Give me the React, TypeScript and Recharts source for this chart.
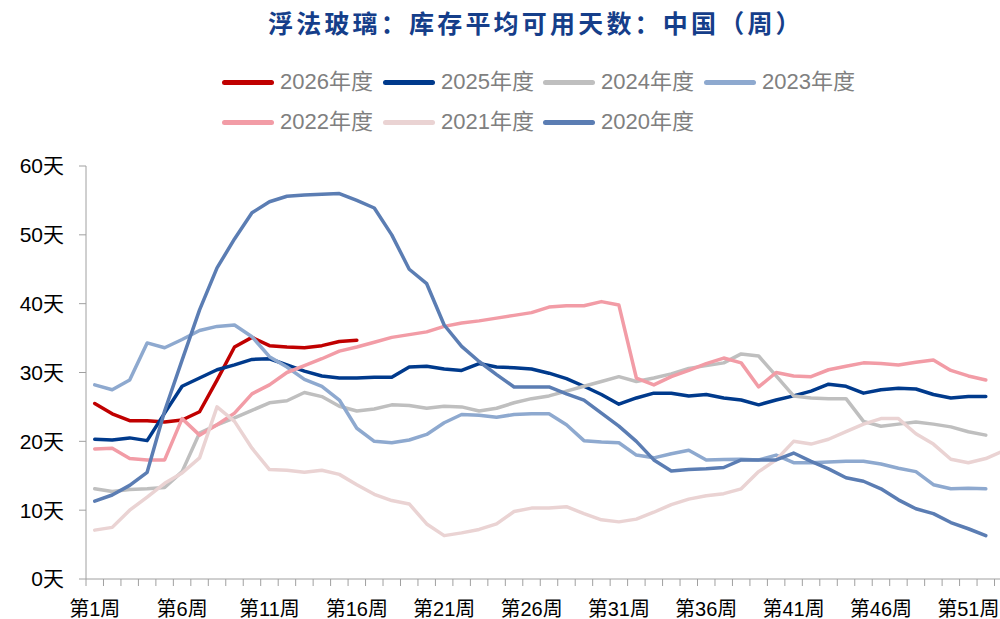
import React from 'react';
import { LineChart, Line, XAxis, YAxis } from 'recharts';

// ---- Data ----
const weekLabels: string[] = Array.from({ length: 53 }, (_, i) => `第${i + 1}周`);

const y2026 = [25.5, 24.0, 23.0, 23.0, 22.8, 23.1, 24.3, 28.9, 33.7, 35.1, 33.9, 33.7, 33.6, 33.9, 34.5, 34.7];

const y2025 = [20.3, 20.2, 20.5, 20.1, 24.1, 28.0, 29.2, 30.4, 31.1, 31.9, 32.0, 31.1, 30.2, 29.5, 29.2, 29.2, 29.3, 29.3, 30.8, 30.9,
  30.5, 30.3, 31.3, 30.8, 30.7, 30.5, 29.9, 29.1, 28.0, 26.8, 25.4, 26.3, 27.0, 27.0, 26.6, 26.8, 26.3, 26.0, 25.3, 26.0,
  26.6, 27.3, 28.3, 28.0, 27.0, 27.5, 27.7, 27.6, 26.8, 26.3, 26.5, 26.5];

const y2024 = [13.1, 12.7, 13.0, 13.1, 13.3, 15.6, 21.2, 22.4, 23.4, 24.5, 25.6, 25.9, 27.1, 26.5, 25.1, 24.4, 24.7, 25.3, 25.2, 24.8,
  25.1, 25.0, 24.4, 24.8, 25.6, 26.2, 26.6, 27.3, 28.0, 28.7, 29.4, 28.7, 29.2, 29.8, 30.6, 31.0, 31.4, 32.7, 32.4, 29.5,
  26.6, 26.3, 26.2, 26.2, 22.9, 22.2, 22.5, 22.8, 22.5, 22.1, 21.4, 20.9];

const y2023 = [28.2, 27.5, 28.9, 34.3, 33.6, 34.8, 36.1, 36.7, 36.9, 35.2, 32.3, 30.8, 29.0, 28.0, 26.0, 21.9, 20.0, 19.8, 20.2, 21.0,
  22.7, 23.9, 23.8, 23.5, 23.9, 24.0, 24.0, 22.4, 20.1, 19.9, 19.8, 18.0, 17.6, 18.2, 18.7, 17.3, 17.35, 17.4, 17.3, 18.0,
  16.9, 16.9, 17.0, 17.1, 17.1, 16.7, 16.1, 15.6, 13.7, 13.1, 13.2, 13.1];

const y2022 = [18.9, 19.0, 17.5, 17.3, 17.3, 23.3, 20.9, 22.4, 24.1, 26.9, 28.2, 30.0, 31.0, 32.0, 33.1, 33.7, 34.4, 35.1, 35.5, 35.9,
  36.7, 37.2, 37.5, 37.9, 38.3, 38.7, 39.5, 39.7, 39.7, 40.3, 39.8, 29.2, 28.2, 29.4, 30.3, 31.3, 32.1, 31.4, 27.9, 30.0,
  29.5, 29.4, 30.4, 30.9, 31.4, 31.3, 31.1, 31.5, 31.8, 30.3, 29.5, 28.9];

const y2021 = [7.1, 7.5, 10.0, 11.9, 13.9, 15.4, 17.6, 25.0, 22.9, 19.0, 15.9, 15.8, 15.5, 15.8, 15.2, 13.7, 12.3, 11.4, 10.9, 8.0,
  6.3, 6.7, 7.2, 8.0, 9.8, 10.3, 10.3, 10.5, 9.5, 8.6, 8.3, 8.7, 9.7, 10.8, 11.6, 12.1, 12.4, 13.1, 15.6, 17.3,
  20.0, 19.6, 20.3, 21.4, 22.5, 23.3, 23.3, 21.1, 19.6, 17.4, 16.9, 17.5, 18.6];

const y2020 = [11.3, 12.2, 13.6, 15.5, 24.4, 31.8, 39.1, 45.2, 49.4, 53.2, 54.8, 55.6, 55.8, 55.9, 56.0, 55.0, 53.9, 50.0, 45.0, 42.9,
  36.9, 33.8, 31.6, 29.7, 27.9, 27.9, 27.9, 26.9, 26.0, 24.1, 22.2, 20.0, 17.3, 15.7, 15.9, 16.0, 16.2, 17.3, 17.3, 17.3,
  18.3, 17.1, 16.0, 14.7, 14.2, 13.1, 11.5, 10.2, 9.5, 8.2, 7.3, 6.3];

const yTicks = [0, 10, 20, 30, 40, 50, 60];

const series = [
  { key: 'y2026', name: '2026年度', color: '#C00000', values: y2026 },
  { key: 'y2025', name: '2025年度', color: '#003A8C', values: y2025 },
  { key: 'y2024', name: '2024年度', color: '#BFBFBF', values: y2024 },
  { key: 'y2023', name: '2023年度', color: '#8EA9CF', values: y2023 },
  { key: 'y2022', name: '2022年度', color: '#F29CA6', values: y2022 },
  { key: 'y2021', name: '2021年度', color: '#EAD3D3', values: y2021 },
  { key: 'y2020', name: '2020年度', color: '#5B7DB3', values: y2020 },
];

const rows = weekLabels.map((w, i) => {
  const r: Record<string, any> = { week: w };
  series.forEach((s) => {
    if (i < s.values.length) r[s.key] = s.values[i];
  });
  return r;
});

// ---- Layout ----
const CHART_W = 1020;
const CHART_H = 619;
const Y_AXIS_W = 86;
const RIGHT_M = 8;
const BW = (CHART_W - RIGHT_M - Y_AXIS_W) / weekLabels.length;
const FONT = '"Liberation Sans", Arial, "Noto Sans CJK SC", sans-serif';

const XTick = (props: any) => {
  const { x, y, payload } = props;
  const i = payload?.index ?? props.index ?? 0;
  return (
    <g>
      <line x1={x - BW / 2} x2={x - BW / 2} y1={y} y2={y + 7} stroke="#A0A0A0" strokeWidth={1} />
      {i % 5 === 0 && (
        <text x={x} y={y + 37} textAnchor="middle" fontSize={20} fill="#000" fontFamily={FONT}>
          {payload.value}
        </text>
      )}
    </g>
  );
};

const LegendItem = ({ name, color, left, top }: any) => (
  <div style={{ position: 'absolute', left, top: top - 14, height: 28, display: 'flex', alignItems: 'center', whiteSpace: 'nowrap' }}>
    <span style={{ display: 'inline-block', width: 52, height: 5, borderRadius: 3, background: color }} />
    <span style={{ marginLeft: 6, fontSize: 22, color: '#808080', fontFamily: FONT, lineHeight: '28px' }}>{name}</span>
  </div>
);

export default function App() {
  const legendPos = [
    { left: 222, top: 82 }, { left: 383, top: 82 }, { left: 543, top: 82 }, { left: 704, top: 82 },
    { left: 222, top: 122 }, { left: 383, top: 122 }, { left: 543, top: 122 },
  ];
  return (
    <div style={{ position: 'fixed', left: 0, top: 0, width: 1000, height: 619, overflow: 'hidden', background: '#fff' }}>
      <div
        style={{
          position: 'absolute', left: 268, top: 6, textAlign: 'left',
          fontFamily: '"Noto Sans CJK SC", sans-serif', fontWeight: 700, fontSize: 25, letterSpacing: 3.2,
          color: '#153E8A', lineHeight: '32px', whiteSpace: 'nowrap',
        }}
      >
        浮法玻璃：库存平均可用天数：中国（周）
      </div>
      {series.map((s, i) => (
        <LegendItem key={s.key} name={s.name} color={s.color} left={legendPos[i].left} top={legendPos[i].top} />
      ))}
      <div style={{ position: 'absolute', left: 0, top: 0 }}>
        <LineChart
          width={CHART_W}
          height={CHART_H}
          data={rows}
          margin={{ top: 166, right: RIGHT_M, bottom: 0, left: 0 }}
          style={{ fontFamily: FONT }}
        >
          <XAxis
            dataKey="week"
            scale="band"
            interval={0}
            height={40}
            tickSize={0}
            tickMargin={0}
            tickLine={false}
            axisLine={{ stroke: '#A0A0A0', strokeWidth: 1 }}
            tick={<XTick />}
          />
          <YAxis
            width={Y_AXIS_W}
            domain={[0, 60]}
            ticks={yTicks}
            interval={0}
            tickFormatter={(v: number) => `${v}天`}
            tickSize={7}
            tickMargin={15}
            axisLine={{ stroke: '#A0A0A0', strokeWidth: 1 }}
            tickLine={{ stroke: '#A0A0A0', strokeWidth: 1 }}
            tick={{ fontSize: 21, fill: '#000', fontFamily: FONT }}
          />
          {series.map((s) => (
            <Line
              key={s.key}
              dataKey={s.key}
              name={s.name}
              stroke={s.color}
              strokeWidth={3.5}
              dot={false}
              activeDot={false}
              type="linear"
              isAnimationActive={false}
              strokeLinejoin="round"
              strokeLinecap="round"
            />
          ))}
        </LineChart>
      </div>
    </div>
  );
}
